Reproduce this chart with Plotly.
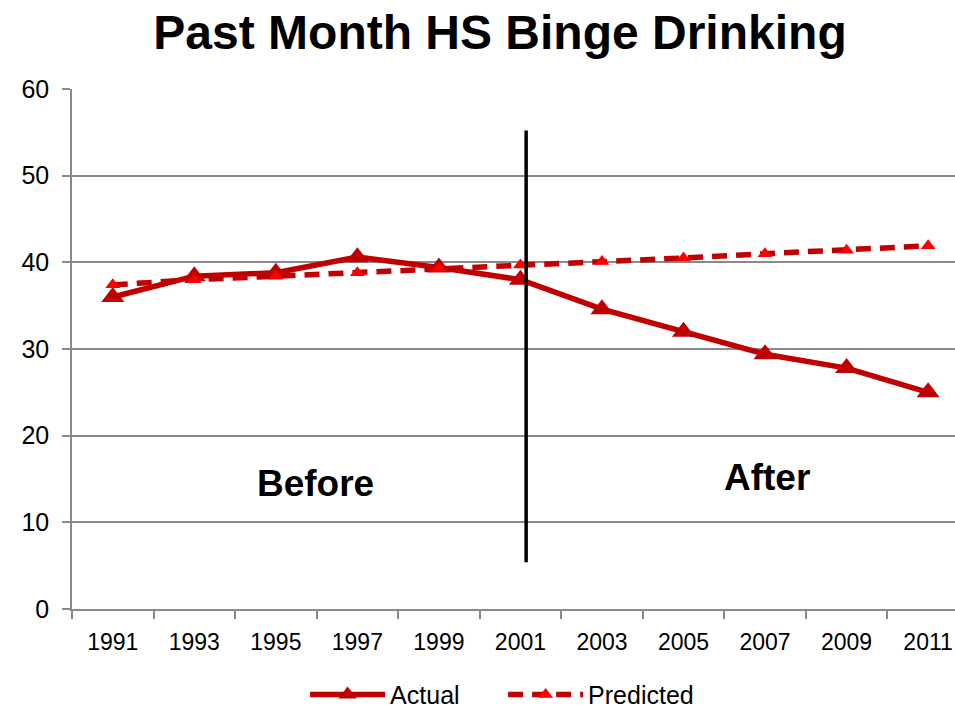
import plotly.graph_objects as go

years = ["1991", "1993", "1995", "1997", "1999", "2001", "2003", "2005", "2007", "2009", "2011"]
actual = [36.0, 38.4, 38.8, 40.6, 39.4, 38.0, 34.6, 32.0, 29.4, 27.8, 25.0]
predicted = [37.4, 38.0, 38.4, 38.8, 39.3, 39.7, 40.1, 40.5, 41.0, 41.4, 41.9]
y_ticks = [0, 10, 20, 30, 40, 50, 60]

FONT = "Liberation Sans, Arial, sans-serif"
DARK = "#C00000"
RED = "#FF0000"
GRID = "#898989"

fig = go.Figure()
fig.add_trace(go.Scatter(
    x=years, y=actual, name="Actual", mode="lines+markers",
    line=dict(color=DARK, width=5.5),
    marker=dict(symbol="triangle-up", size=20, color=DARK),
))
fig.add_trace(go.Scatter(
    x=years, y=predicted, name="Predicted", mode="lines+markers",
    line=dict(color=DARK, width=5.5, dash="15px,9px"),
    marker=dict(symbol="triangle-up", size=13, color=RED),
))

# divider between before / after
fig.add_shape(type="line", xref="x", yref="y", x0=5.07, x1=5.07, y0=5.4, y1=55.2,
              line=dict(color="black", width=3.5))

fig.add_annotation(x=2.49, y=14.5, xref="x", yref="y", text="<b>Before</b>", showarrow=False,
                   font=dict(family=FONT, size=37, color="black"))
fig.add_annotation(x=8.02, y=15.2, xref="x", yref="y", text="<b>After</b>", showarrow=False,
                   font=dict(family=FONT, size=37, color="black"))

fig.update_layout(
    width=955, height=708,
    paper_bgcolor="white", plot_bgcolor="white",
    margin=dict(l=72, r=0, t=89, b=99, autoexpand=False),
    title=dict(text="<b>Past Month HS Binge Drinking</b>", x=0.5236, xanchor="center",
               y=0.955, yanchor="middle", font=dict(family=FONT, size=48, color="black")),
    font=dict(family=FONT, color="black"),
    showlegend=True,
    legend=dict(orientation="h", x=0.264, xanchor="left", y=-0.165, yanchor="middle",
                font=dict(family=FONT, size=25, color="black"), itemwidth=75,
                entrywidth=108, bgcolor="rgba(0,0,0,0)"),
    xaxis=dict(
        type="category", range=[-0.5, 10.33], tickson="boundaries",
        ticks="outside", ticklen=8, tickcolor=GRID, tickwidth=1.5,
        showgrid=False, showline=True, linecolor=GRID, linewidth=1.5,
        tickfont=dict(family=FONT, size=23, color="black"), zeroline=False,
        ticklabelstandoff=12, automargin=False,
    ),
    yaxis=dict(
        range=[0, 60], tickvals=y_ticks, ticks="outside", ticklen=8, tickcolor=GRID,
        tickwidth=1.5, showgrid=True, gridcolor=GRID, gridwidth=1.5,
        showline=True, linecolor=GRID, linewidth=1.5, zeroline=False,
        tickfont=dict(family=FONT, size=25, color="black"), ticklabelstandoff=8,
        automargin=False,
    ),
)

fig.write_html("out.html", config={"displayModeBar": False},
               post_script="document.body.style.margin='0';document.body.style.overflow='hidden';")
